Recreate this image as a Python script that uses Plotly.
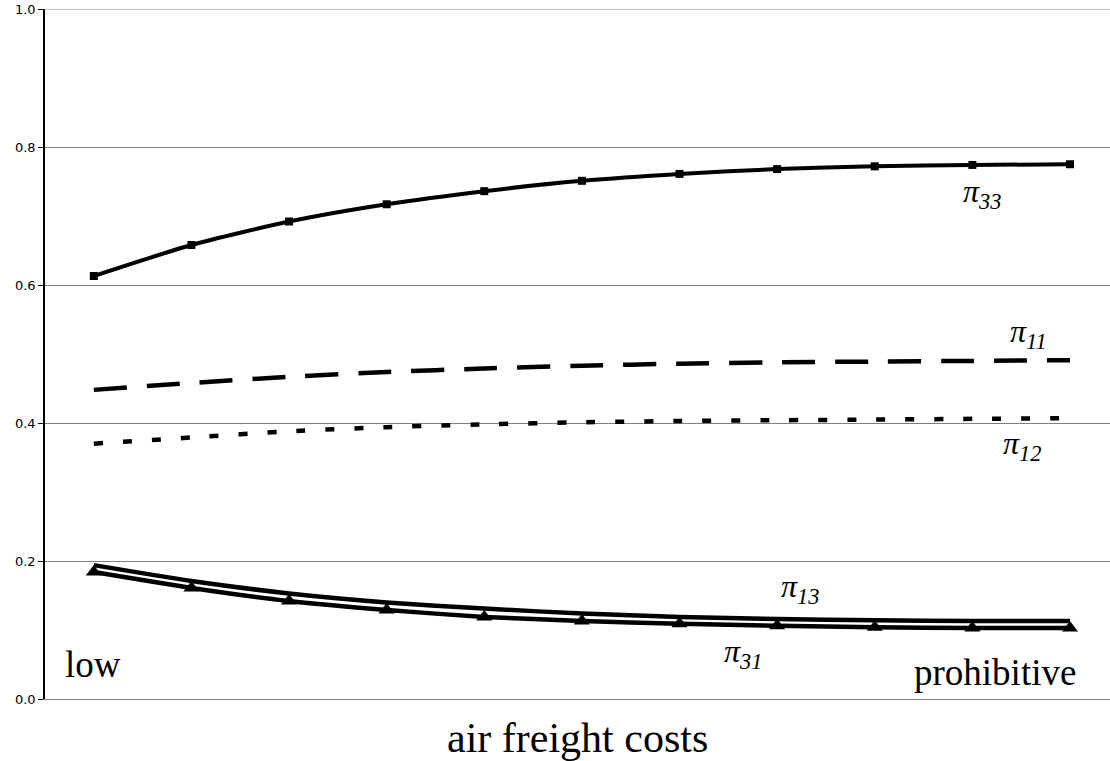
import plotly.graph_objects as go

# ---- data ----
steps = list(range(11))  # air freight cost steps, low -> prohibitive
pi33 = [0.613, 0.658, 0.692, 0.717, 0.736, 0.751, 0.761, 0.768, 0.772, 0.774, 0.775]
pi11 = [0.448, 0.458, 0.467, 0.474, 0.479, 0.483, 0.486, 0.488, 0.489, 0.490, 0.491]
pi12 = [0.370, 0.379, 0.388, 0.394, 0.398, 0.401, 0.403, 0.404, 0.405, 0.406, 0.407]
pi13 = [0.194, 0.171, 0.153, 0.140, 0.131, 0.124, 0.119, 0.116, 0.114, 0.113, 0.113]
pi31 = [0.184, 0.161, 0.142, 0.129, 0.119, 0.113, 0.109, 0.106, 0.104, 0.103, 0.103]
y_ticks = [0.0, 0.2, 0.4, 0.6, 0.8, 1.0]

SERIF = "Liberation Serif, Times New Roman, serif"
SANS = "DejaVu Sans, Arial, sans-serif"

fig = go.Figure()
fig.add_trace(go.Scatter(x=steps, y=pi33, mode="lines+markers", line=dict(color="black", width=4, shape="spline", smoothing=0.6),
                         marker=dict(symbol="square", size=8, color="black"), showlegend=False))
fig.add_trace(go.Scatter(x=steps, y=pi11, mode="lines", line=dict(color="black", width=4.5, dash="33px,20px", shape="spline", smoothing=0.6),
                         showlegend=False))
fig.add_trace(go.Scatter(x=steps, y=pi12, mode="lines", line=dict(color="black", width=4.5, dash="9px,20px", shape="spline", smoothing=0.6),
                         showlegend=False))
fig.add_trace(go.Scatter(x=steps, y=pi13, mode="lines", line=dict(color="black", width=4.5, shape="spline", smoothing=0.6),
                         showlegend=False))
fig.add_trace(go.Scatter(x=steps, y=pi31, mode="lines+markers", line=dict(color="black", width=4.5, shape="spline", smoothing=0.6),
                         marker=dict(symbol="triangle-up", size=14, color="black"), showlegend=False))

labels = [
    ("<i>π</i><sub><i>33</i></sub>", 9.1, 0.733),
    ("<i>π</i><sub><i>11</i></sub>", 9.57, 0.530),
    ("<i>π</i><sub><i>12</i></sub>", 9.51, 0.368),
    ("<i>π</i><sub><i>13</i></sub>", 7.23, 0.160),
    ("<i>π</i><sub><i>31</i></sub>", 6.65, 0.066),
]
for txt, xx, yy in labels:
    fig.add_annotation(x=xx, y=yy, text=txt, showarrow=False, font=dict(family=SERIF, size=32, color="black"))

fig.add_annotation(x=-0.01, y=0.05, text="low", showarrow=False, font=dict(family=SERIF, size=37, color="black"))
fig.add_annotation(x=9.23, y=0.038, text="prohibitive", showarrow=False, font=dict(family=SERIF, size=37, color="black"))

# x-axis title as paper annotation for precise placement
fig.add_annotation(x=0.5, xref="paper", y=-0.057, yref="paper", yanchor="middle", text="air freight costs",
                   showarrow=False, font=dict(family=SERIF, size=42, color="black"))

fig.update_layout(
    width=1110, height=761,
    margin=dict(l=45, r=0, t=9, b=62),
    paper_bgcolor="white", plot_bgcolor="white",
    xaxis=dict(range=[-0.5, 10.41], showticklabels=False, ticks="", showgrid=False, zeroline=False,
               showline=True, linecolor="#808080", linewidth=1),
    yaxis=dict(range=[0, 1.0], tickvals=y_ticks, tickformat=".1f", ticks="outside", ticklen=5, tickcolor="black",
               showline=True, linecolor="black", linewidth=1.5, showgrid=True, gridcolor="#808080", gridwidth=1,
               zeroline=False, tickfont=dict(family=SANS, size=13, color="black")),
    shapes=[dict(type="line", xref="paper", yref="y", x0=0, x1=1, y0=1.0, y1=1.0,
                 line=dict(color="#808080", width=1))],
)

fig.write_html("out.html", config={"displayModeBar": False},
               post_script="document.body.style.margin='0';document.body.style.overflow='hidden';")
